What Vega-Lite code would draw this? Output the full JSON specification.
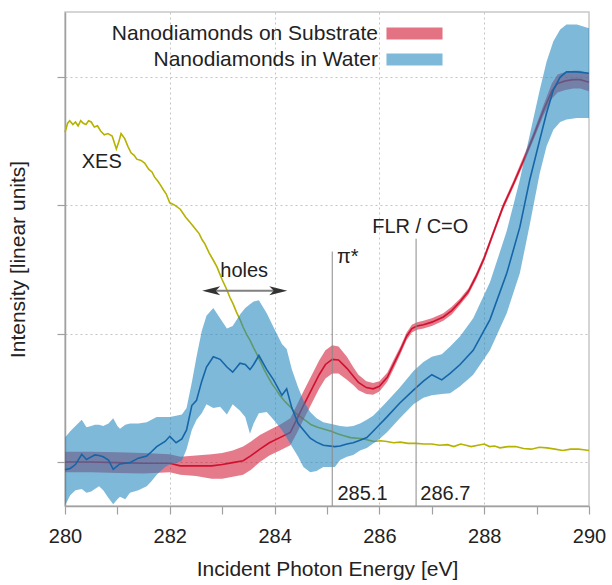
{
  "$schema": "https://vega.github.io/schema/vega-lite/v6.json",
  "width": 524,
  "height": 494,
  "autosize": {"type": "none"},
  "padding": {"left": 65, "top": 12, "right": 23, "bottom": 79},
  "config": {
    "font": "Liberation Sans",
    "view": {"stroke": "#c8c8c8", "strokeWidth": 1.5}
  },
  "datasets": {
    "xes": [
      {"x": 280.0, "y": 2.57}, {"x": 280.05, "y": 2.64}, {"x": 280.09, "y": 2.66}, {"x": 280.15, "y": 2.63}, {"x": 280.2, "y": 2.65},
      {"x": 280.25, "y": 2.62}, {"x": 280.3, "y": 2.66}, {"x": 280.35, "y": 2.64}, {"x": 280.4, "y": 2.63}, {"x": 280.45, "y": 2.66},
      {"x": 280.5, "y": 2.65}, {"x": 280.56, "y": 2.61}, {"x": 280.62, "y": 2.62}, {"x": 280.68, "y": 2.58}, {"x": 280.75, "y": 2.55},
      {"x": 280.82, "y": 2.56}, {"x": 280.9, "y": 2.54}, {"x": 280.98, "y": 2.44}, {"x": 281.03, "y": 2.5}, {"x": 281.07, "y": 2.56},
      {"x": 281.14, "y": 2.52}, {"x": 281.2, "y": 2.46}, {"x": 281.26, "y": 2.41}, {"x": 281.32, "y": 2.39}, {"x": 281.37, "y": 2.36},
      {"x": 281.45, "y": 2.35}, {"x": 281.52, "y": 2.33}, {"x": 281.6, "y": 2.28}, {"x": 281.66, "y": 2.26}, {"x": 281.71, "y": 2.22},
      {"x": 281.77, "y": 2.19}, {"x": 281.82, "y": 2.16}, {"x": 281.88, "y": 2.12}, {"x": 281.93, "y": 2.09}, {"x": 282.0, "y": 2.02},
      {"x": 282.05, "y": 2.01}, {"x": 282.1, "y": 2.0}, {"x": 282.2, "y": 1.97}, {"x": 282.3, "y": 1.91}, {"x": 282.42, "y": 1.85},
      {"x": 282.5, "y": 1.81}, {"x": 282.56, "y": 1.78}, {"x": 282.62, "y": 1.73}, {"x": 282.67, "y": 1.7}, {"x": 282.75, "y": 1.63},
      {"x": 282.82, "y": 1.58}, {"x": 282.9, "y": 1.52}, {"x": 282.95, "y": 1.47}, {"x": 283.0, "y": 1.42}, {"x": 283.08, "y": 1.35},
      {"x": 283.15, "y": 1.28}, {"x": 283.21, "y": 1.23}, {"x": 283.27, "y": 1.17}, {"x": 283.34, "y": 1.11}, {"x": 283.4, "y": 1.05},
      {"x": 283.47, "y": 0.99}, {"x": 283.53, "y": 0.95}, {"x": 283.6, "y": 0.89}, {"x": 283.65, "y": 0.85}, {"x": 283.72, "y": 0.79},
      {"x": 283.8, "y": 0.72}, {"x": 283.88, "y": 0.66}, {"x": 283.95, "y": 0.61}, {"x": 284.02, "y": 0.57}, {"x": 284.1, "y": 0.52},
      {"x": 284.2, "y": 0.47}, {"x": 284.3, "y": 0.43}, {"x": 284.4, "y": 0.38}, {"x": 284.5, "y": 0.35}, {"x": 284.6, "y": 0.32},
      {"x": 284.7, "y": 0.29}, {"x": 284.82, "y": 0.27}, {"x": 284.95, "y": 0.255}, {"x": 285.08, "y": 0.24}, {"x": 285.2, "y": 0.22},
      {"x": 285.32, "y": 0.205}, {"x": 285.45, "y": 0.19}, {"x": 285.58, "y": 0.185}, {"x": 285.7, "y": 0.18}, {"x": 285.8, "y": 0.17},
      {"x": 285.9, "y": 0.16}, {"x": 286.02, "y": 0.165}, {"x": 286.14, "y": 0.16}, {"x": 286.27, "y": 0.15}, {"x": 286.4, "y": 0.155},
      {"x": 286.55, "y": 0.145}, {"x": 286.7, "y": 0.145}, {"x": 286.85, "y": 0.14}, {"x": 287.0, "y": 0.14}, {"x": 287.15, "y": 0.13},
      {"x": 287.3, "y": 0.135}, {"x": 287.42, "y": 0.12}, {"x": 287.55, "y": 0.14}, {"x": 287.65, "y": 0.13}, {"x": 287.75, "y": 0.12},
      {"x": 287.88, "y": 0.13}, {"x": 288.0, "y": 0.14}, {"x": 288.1, "y": 0.12}, {"x": 288.2, "y": 0.125}, {"x": 288.3, "y": 0.11},
      {"x": 288.45, "y": 0.12}, {"x": 288.6, "y": 0.12}, {"x": 288.75, "y": 0.105}, {"x": 288.9, "y": 0.1}, {"x": 289.05, "y": 0.115},
      {"x": 289.2, "y": 0.11}, {"x": 289.35, "y": 0.1}, {"x": 289.5, "y": 0.09}, {"x": 289.65, "y": 0.1}, {"x": 289.8, "y": 0.1},
      {"x": 289.9, "y": 0.095}, {"x": 290.0, "y": 0.09}
    ],
    "sub": [
      {"x": 280.0, "y": 0.0, "lo": -0.08, "hi": 0.08},
      {"x": 280.5, "y": 0.0, "lo": -0.08, "hi": 0.08},
      {"x": 281.0, "y": -0.005, "lo": -0.085, "hi": 0.075},
      {"x": 281.5, "y": -0.01, "lo": -0.09, "hi": 0.07},
      {"x": 282.0, "y": -0.01, "lo": -0.08, "hi": 0.06},
      {"x": 282.2, "y": -0.03, "lo": -0.1, "hi": 0.04},
      {"x": 282.5, "y": -0.03, "lo": -0.11, "hi": 0.05},
      {"x": 282.8, "y": -0.03, "lo": -0.13, "hi": 0.06},
      {"x": 283.0, "y": -0.02, "lo": -0.13, "hi": 0.07},
      {"x": 283.2, "y": -0.005, "lo": -0.115, "hi": 0.09},
      {"x": 283.4, "y": 0.01, "lo": -0.1, "hi": 0.12},
      {"x": 283.55, "y": 0.05, "lo": -0.06, "hi": 0.16},
      {"x": 283.72, "y": 0.1, "lo": 0.0, "hi": 0.21},
      {"x": 283.9, "y": 0.15, "lo": 0.05, "hi": 0.25},
      {"x": 284.1, "y": 0.19, "lo": 0.09, "hi": 0.29},
      {"x": 284.3, "y": 0.23, "lo": 0.13, "hi": 0.34},
      {"x": 284.42, "y": 0.33, "lo": 0.22, "hi": 0.44},
      {"x": 284.55, "y": 0.44, "lo": 0.33, "hi": 0.55},
      {"x": 284.7, "y": 0.56, "lo": 0.45, "hi": 0.67},
      {"x": 284.85, "y": 0.68, "lo": 0.57, "hi": 0.79},
      {"x": 284.97, "y": 0.76, "lo": 0.65, "hi": 0.87},
      {"x": 285.1, "y": 0.8, "lo": 0.69, "hi": 0.91},
      {"x": 285.22, "y": 0.795, "lo": 0.69, "hi": 0.9},
      {"x": 285.38, "y": 0.73, "lo": 0.64, "hi": 0.82},
      {"x": 285.5, "y": 0.67, "lo": 0.6, "hi": 0.74},
      {"x": 285.6, "y": 0.62, "lo": 0.56, "hi": 0.68},
      {"x": 285.75, "y": 0.58, "lo": 0.53, "hi": 0.63},
      {"x": 285.88, "y": 0.57, "lo": 0.525, "hi": 0.615},
      {"x": 286.0, "y": 0.59, "lo": 0.55, "hi": 0.63},
      {"x": 286.15, "y": 0.66, "lo": 0.625, "hi": 0.695},
      {"x": 286.27, "y": 0.76, "lo": 0.725, "hi": 0.795},
      {"x": 286.4, "y": 0.87, "lo": 0.84, "hi": 0.9},
      {"x": 286.52, "y": 0.98, "lo": 0.95, "hi": 1.01},
      {"x": 286.62, "y": 1.04, "lo": 1.01, "hi": 1.07},
      {"x": 286.72, "y": 1.06, "lo": 1.03, "hi": 1.09},
      {"x": 286.84, "y": 1.07, "lo": 1.04, "hi": 1.1},
      {"x": 287.0, "y": 1.09, "lo": 1.06, "hi": 1.12},
      {"x": 287.22, "y": 1.13, "lo": 1.1, "hi": 1.16},
      {"x": 287.38, "y": 1.18, "lo": 1.15, "hi": 1.21},
      {"x": 287.54, "y": 1.25, "lo": 1.225, "hi": 1.275},
      {"x": 287.7, "y": 1.33, "lo": 1.305, "hi": 1.355},
      {"x": 287.85, "y": 1.45, "lo": 1.425, "hi": 1.475},
      {"x": 288.0, "y": 1.59, "lo": 1.565, "hi": 1.615},
      {"x": 288.17, "y": 1.78, "lo": 1.755, "hi": 1.805},
      {"x": 288.36, "y": 1.99, "lo": 1.965, "hi": 2.015},
      {"x": 288.56, "y": 2.17, "lo": 2.145, "hi": 2.195},
      {"x": 288.75, "y": 2.35, "lo": 2.32, "hi": 2.38},
      {"x": 288.94, "y": 2.54, "lo": 2.51, "hi": 2.57},
      {"x": 289.13, "y": 2.74, "lo": 2.7, "hi": 2.78},
      {"x": 289.29, "y": 2.89, "lo": 2.83, "hi": 2.95},
      {"x": 289.4, "y": 2.95, "lo": 2.88, "hi": 3.02},
      {"x": 289.55, "y": 2.97, "lo": 2.9, "hi": 3.04},
      {"x": 289.7, "y": 2.98, "lo": 2.91, "hi": 3.05},
      {"x": 289.83, "y": 2.98, "lo": 2.91, "hi": 3.05},
      {"x": 290.0, "y": 2.96, "lo": 2.89, "hi": 3.03}
    ],
    "water": [
      {"x": 280.0, "y": -0.06, "lo": -0.34, "hi": 0.19},
      {"x": 280.1, "y": -0.05, "lo": -0.26, "hi": 0.24},
      {"x": 280.2, "y": -0.02, "lo": -0.22, "hi": 0.28},
      {"x": 280.32, "y": 0.06, "lo": -0.21, "hi": 0.33},
      {"x": 280.41, "y": 0.02, "lo": -0.24, "hi": 0.27},
      {"x": 280.5, "y": 0.04, "lo": -0.23, "hi": 0.28},
      {"x": 280.57, "y": 0.055, "lo": -0.21, "hi": 0.29},
      {"x": 280.65, "y": 0.05, "lo": -0.19, "hi": 0.29},
      {"x": 280.73, "y": 0.04, "lo": -0.22, "hi": 0.28},
      {"x": 280.83, "y": 0.015, "lo": -0.28, "hi": 0.3},
      {"x": 280.92, "y": -0.057, "lo": -0.33, "hi": 0.34},
      {"x": 281.0, "y": -0.03, "lo": -0.29, "hi": 0.28},
      {"x": 281.05, "y": -0.015, "lo": -0.27, "hi": 0.26},
      {"x": 281.15, "y": -0.01, "lo": -0.29, "hi": 0.29},
      {"x": 281.24, "y": -0.005, "lo": -0.24, "hi": 0.3},
      {"x": 281.4, "y": 0.03, "lo": -0.22, "hi": 0.3},
      {"x": 281.56, "y": 0.047, "lo": -0.19, "hi": 0.31},
      {"x": 281.65, "y": 0.08, "lo": -0.15, "hi": 0.33},
      {"x": 281.75, "y": 0.12, "lo": -0.1, "hi": 0.35},
      {"x": 281.91, "y": 0.16, "lo": -0.04, "hi": 0.35},
      {"x": 282.0, "y": 0.2, "lo": -0.02, "hi": 0.35},
      {"x": 282.12, "y": 0.15, "lo": -0.01, "hi": 0.36},
      {"x": 282.23, "y": 0.18, "lo": 0.01, "hi": 0.37},
      {"x": 282.32, "y": 0.25, "lo": 0.1, "hi": 0.42},
      {"x": 282.42, "y": 0.44, "lo": 0.25, "hi": 0.62},
      {"x": 282.51, "y": 0.48, "lo": 0.33, "hi": 0.82},
      {"x": 282.61, "y": 0.63, "lo": 0.38, "hi": 1.02},
      {"x": 282.7, "y": 0.74, "lo": 0.45, "hi": 1.14},
      {"x": 282.83, "y": 0.82, "lo": 0.42, "hi": 1.2},
      {"x": 282.96, "y": 0.8, "lo": 0.43, "hi": 1.12},
      {"x": 283.09, "y": 0.74, "lo": 0.37, "hi": 1.04},
      {"x": 283.2, "y": 0.7, "lo": 0.45, "hi": 1.06},
      {"x": 283.34, "y": 0.77, "lo": 0.4, "hi": 1.15},
      {"x": 283.44, "y": 0.76, "lo": 0.35, "hi": 1.2},
      {"x": 283.53, "y": 0.72, "lo": 0.22, "hi": 1.23},
      {"x": 283.6, "y": 0.76, "lo": 0.3, "hi": 1.25},
      {"x": 283.7, "y": 0.83, "lo": 0.38, "hi": 1.26},
      {"x": 283.85, "y": 0.72, "lo": 0.39, "hi": 1.16},
      {"x": 283.98, "y": 0.64, "lo": 0.33, "hi": 1.05},
      {"x": 284.14, "y": 0.52, "lo": 0.25, "hi": 0.92},
      {"x": 284.23, "y": 0.57, "lo": 0.19, "hi": 0.88},
      {"x": 284.33, "y": 0.42, "lo": 0.12, "hi": 0.72},
      {"x": 284.45, "y": 0.3, "lo": 0.04, "hi": 0.58},
      {"x": 284.55, "y": 0.25, "lo": -0.04, "hi": 0.48},
      {"x": 284.68, "y": 0.185, "lo": -0.08, "hi": 0.39},
      {"x": 284.8, "y": 0.155, "lo": -0.07, "hi": 0.34},
      {"x": 284.93, "y": 0.13, "lo": -0.04, "hi": 0.31},
      {"x": 285.15, "y": 0.12, "lo": -0.04, "hi": 0.29},
      {"x": 285.25, "y": 0.125, "lo": 0.015, "hi": 0.28},
      {"x": 285.38, "y": 0.14, "lo": 0.04, "hi": 0.275},
      {"x": 285.5, "y": 0.15, "lo": 0.055, "hi": 0.28},
      {"x": 285.63, "y": 0.17, "lo": 0.09, "hi": 0.3},
      {"x": 285.76, "y": 0.19, "lo": 0.11, "hi": 0.33},
      {"x": 285.88, "y": 0.24, "lo": 0.145, "hi": 0.36},
      {"x": 286.0, "y": 0.29, "lo": 0.18, "hi": 0.41},
      {"x": 286.14, "y": 0.35, "lo": 0.23, "hi": 0.47},
      {"x": 286.39, "y": 0.46, "lo": 0.34, "hi": 0.58},
      {"x": 286.65, "y": 0.56, "lo": 0.45, "hi": 0.71},
      {"x": 286.84, "y": 0.63, "lo": 0.5, "hi": 0.78},
      {"x": 287.0, "y": 0.68, "lo": 0.52, "hi": 0.82},
      {"x": 287.19, "y": 0.64, "lo": 0.53, "hi": 0.84},
      {"x": 287.35, "y": 0.69, "lo": 0.535, "hi": 0.9},
      {"x": 287.54, "y": 0.76, "lo": 0.59, "hi": 0.98},
      {"x": 287.79, "y": 0.87, "lo": 0.68, "hi": 1.12},
      {"x": 288.11, "y": 1.11, "lo": 0.87, "hi": 1.4},
      {"x": 288.43, "y": 1.47, "lo": 1.16, "hi": 1.8},
      {"x": 288.68, "y": 1.83, "lo": 1.47, "hi": 2.2},
      {"x": 288.87, "y": 2.2, "lo": 1.85, "hi": 2.55},
      {"x": 289.06, "y": 2.51, "lo": 2.25, "hi": 2.9},
      {"x": 289.19, "y": 2.72, "lo": 2.46, "hi": 3.12},
      {"x": 289.32, "y": 2.9, "lo": 2.59, "hi": 3.28},
      {"x": 289.45, "y": 3.0, "lo": 2.65, "hi": 3.37},
      {"x": 289.57, "y": 3.04, "lo": 2.67, "hi": 3.41},
      {"x": 289.77, "y": 3.04, "lo": 2.68, "hi": 3.41},
      {"x": 290.0, "y": 3.03, "lo": 2.68, "hi": 3.38}
    ],
    "markers": [
      {"x": 285.1, "lo": -0.343, "hi": 1.64},
      {"x": 286.7, "lo": -0.343, "hi": 1.74}
    ],
    "arrowline": [
      {"x": 282.8, "x2": 284.05, "y": 1.335}
    ],
    "headLeft": [{"x": 282.79, "y": 1.335}],
    "headRight": [{"x": 284.07, "y": 1.335}],
    "textLeft": [
      {"x": 280.32, "y": 2.29, "text": "XES"},
      {"x": 285.19, "y": 1.55, "text": "π*"},
      {"x": 285.2, "y": -0.296, "text": "285.1"},
      {"x": 286.78, "y": -0.296, "text": "286.7"}
    ],
    "textCenter": [
      {"x": 283.42, "y": 1.44, "text": "holes"},
      {"x": 286.78, "y": 1.785, "text": "FLR / C=O"}
    ]
  },
  "encoding": {
    "x": {
      "field": "x",
      "type": "quantitative",
      "scale": {"domain": [280, 290], "nice": false, "zero": false},
      "axis": {
        "values": [280, 281, 282, 283, 284, 285, 286, 287, 288, 289, 290],
        "labelExpr": "datum.value % 2 == 0 ? datum.label : ''",
        "title": "Incident Photon Energy [eV]",
        "grid": true,
        "gridOpacity": {"condition": {"test": "datum.value % 2 == 0 && datum.value > 280 && datum.value < 290", "value": 1}, "value": 0},
        "gridDash": [2, 3],
        "gridColor": "#c4c4c4",
        "tickSize": 8,
        "tickColor": "#a0a0a0",
        "tickWidth": 1.2,
        "domainColor": "#a0a0a0",
        "domainWidth": 1.5,
        "labelFontSize": 20,
        "labelPadding": 12,
        "labelColor": "#222222",
        "labelFlush": false,
        "labelOverlap": false,
        "titleFontSize": 21,
        "titleFontWeight": "normal",
        "titleColor": "#222222",
        "titlePadding": 12
      }
    }
  },
  "layer": [
    {
      "data": {"name": "xes"},
      "mark": {"type": "line", "color": "#b5b200", "strokeWidth": 1.6},
      "encoding": {
        "y": {
          "field": "y",
          "type": "quantitative",
          "scale": {"domain": [-0.343, 3.507], "nice": false, "zero": false},
          "axis": {
            "values": [0, 1, 2, 3],
            "labels": false,
            "title": "Intensity [linear units]",
            "grid": true,
            "gridDash": [2, 3],
            "gridColor": "#c4c4c4",
            "tickSize": 8,
            "tickColor": "#a0a0a0",
            "tickWidth": 1.2,
            "domainColor": "#a0a0a0",
            "domainWidth": 1.5,
            "titleFontSize": 21,
            "titleFontWeight": "normal",
            "titleColor": "#222222",
            "titlePadding": 28
          }
        }
      }
    },
    {
      "data": {"name": "sub"},
      "mark": {"type": "area", "opacity": 0.55},
      "encoding": {
        "y": {"field": "lo", "type": "quantitative"},
        "y2": {"field": "hi"},
        "color": {
          "datum": "Nanodiamonds on Substrate",
          "type": "nominal",
          "scale": {"domain": ["Nanodiamonds on Substrate", "Nanodiamonds in Water"], "range": ["#ce0d2a", "#2187be"]},
          "legend": {
            "orient": "none",
            "legendX": 339,
            "legendY": 11,
            "direction": "vertical",
            "title": null,
            "symbolType": "M-4.67,-1H4.67V1H-4.67Z",
            "symbolSize": 144,
            "symbolOpacity": 0.55,
            "symbolStrokeWidth": 0,
            "labelAlign": "right",
            "labelOffset": -47,
            "labelFontSize": 21,
            "labelColor": "#222222",
            "labelLimit": 400,
            "rowPadding": 4,
            "padding": 0
          }
        }
      }
    },
    {
      "data": {"name": "sub"},
      "mark": {"type": "line", "color": "#d0102e", "strokeWidth": 1.6},
      "encoding": {"y": {"field": "y", "type": "quantitative"}}
    },
    {
      "data": {"name": "water"},
      "mark": {"type": "area", "opacity": 0.58},
      "encoding": {
        "y": {"field": "lo", "type": "quantitative"},
        "y2": {"field": "hi"},
        "color": {"datum": "Nanodiamonds in Water", "type": "nominal"}
      }
    },
    {
      "data": {"name": "water"},
      "mark": {"type": "line", "color": "#1565a8", "strokeWidth": 1.6},
      "encoding": {"y": {"field": "y", "type": "quantitative"}}
    },
    {
      "data": {"name": "markers"},
      "mark": {"type": "rule", "color": "#8a8a8a", "strokeWidth": 1},
      "encoding": {
        "y": {"field": "lo", "type": "quantitative"},
        "y2": {"field": "hi"}
      }
    },
    {
      "data": {"name": "arrowline"},
      "mark": {"type": "rule", "color": "#808080", "strokeWidth": 2},
      "encoding": {
        "x2": {"field": "x2"},
        "y": {"field": "y", "type": "quantitative"}
      }
    },
    {
      "data": {"name": "headLeft"},
      "mark": {"type": "point", "filled": true, "opacity": 1, "color": "#333333", "size": 324, "shape": "M-1,0L1,-0.5L0.5,0L1,0.5Z"},
      "encoding": {"y": {"field": "y", "type": "quantitative"}}
    },
    {
      "data": {"name": "headRight"},
      "mark": {"type": "point", "filled": true, "opacity": 1, "color": "#333333", "size": 324, "shape": "M1,0L-1,-0.5L-0.5,0L-1,0.5Z"},
      "encoding": {"y": {"field": "y", "type": "quantitative"}}
    },
    {
      "data": {"name": "textLeft"},
      "mark": {"type": "text", "align": "left", "baseline": "alphabetic", "fontSize": 20, "color": "#222222"},
      "encoding": {
        "y": {"field": "y", "type": "quantitative"},
        "text": {"field": "text"}
      }
    },
    {
      "data": {"name": "textCenter"},
      "mark": {"type": "text", "align": "center", "baseline": "alphabetic", "fontSize": 20, "color": "#222222"},
      "encoding": {
        "y": {"field": "y", "type": "quantitative"},
        "text": {"field": "text"}
      }
    }
  ]
}
